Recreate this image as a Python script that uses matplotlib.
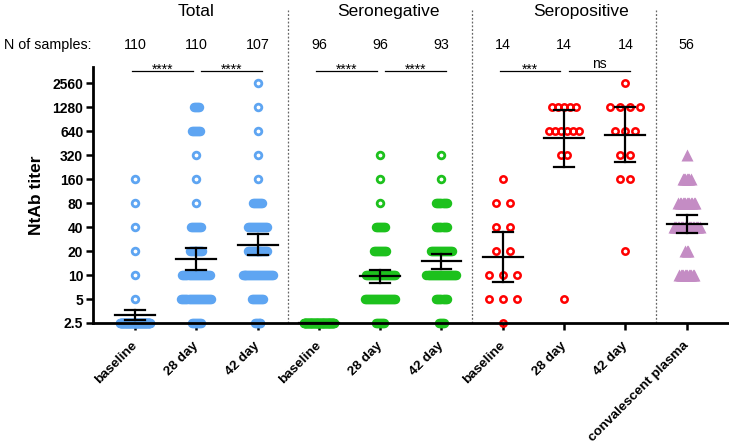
import numpy as np
import matplotlib.pyplot as plt
from matplotlib.transforms import blended_transform_factory

plt.rcParams['font.family'] = ['Liberation Sans', 'DejaVu Sans']

# ---- data -------------------------------------------------------------
categories = ["baseline", "28 day", "42 day",
              "baseline", "28 day", "42 day",
              "baseline", "28 day", "42 day",
              "convalescent plasma"]
group_titles = ["Total", "Seronegative", "Seropositive"]
n_samples = [110, 110, 107, 96, 96, 93, 14, 14, 14, 56]
titer_levels = [2.5, 5, 10, 20, 40, 80, 160, 320, 640, 1280, 2560]
titer_labels = ["2.5", "5", "10", "20", "40", "80", "160", "320", "640", "1280", "2560"]

# number of samples at each titer level (2.5 ... 2560), one list per column
total_base = [104, 1, 1, 1, 1, 1, 1, 0, 0, 0, 0]
total_d28 = [10, 30, 28, 13, 11, 1, 1, 1, 9, 6, 0]
total_d42 = [7, 12, 32, 21, 20, 10, 1, 1, 1, 1, 1]
neg_base = [96, 0, 0, 0, 0, 0, 0, 0, 0, 0, 0]
neg_d28 = [9, 31, 30, 13, 10, 1, 1, 1, 0, 0, 0]
neg_d42 = [6, 11, 30, 22, 11, 11, 1, 1, 0, 0, 0]
pos_base = [1, 3, 3, 2, 2, 2, 1, 0, 0, 0, 0]
pos_d28 = [0, 1, 0, 0, 0, 0, 0, 2, 6, 5, 0]
pos_d42 = [0, 0, 0, 1, 0, 0, 2, 2, 3, 4, 1]
plasma = [0, 0, 12, 3, 20, 13, 7, 1, 0, 0, 0]
column_counts = [total_base, total_d28, total_d42, neg_base, neg_d28, neg_d42,
                 pos_base, pos_d28, pos_d42, plasma]

# geometric mean titer with 95% CI
gmt = [3.15, 16.0, 24.0, 2.5, 9.7, 15.0, 17.0, 518, 576, 43.6]
ci_low = [2.73, 11.6, 17.7, 2.5, 8.0, 12.0, 8.2, 226, 259, 33.3]
ci_high = [3.64, 22.0, 32.7, 2.5, 11.6, 18.3, 34.6, 1174, 1290, 56.6]

# significance brackets: (left col, right col, label)
comparisons = [(0, 1, "****"), (1, 2, "****"), (3, 4, "****"), (4, 5, "****"),
               (6, 7, "***"), (7, 8, "ns")]

blue, green, red, purple = "#5EA5F2", "#1DC11D", "#FF0000", "#C48CC4"
col_colors = [blue] * 3 + [green] * 3 + [red] * 3 + [purple]

# ---- figure -------------------------------------------------------------
fig = plt.figure(figsize=(7.29, 4.46), dpi=100)
ax = fig.add_axes([93 / 729, 1 - 323 / 446, 1 - 93 / 729, 256 / 446])

PX = 1 / 61.3  # one pixel in x data units
x_pos = np.arange(len(categories))

for i, counts in enumerate(column_counts):
    is_tri = i == 9
    width = (26 if is_tri else 30) * PX
    s = min(14 * PX, width / max(max(counts) - 1, 1))
    xs, ys = [], []
    for lvl, n in zip(titer_levels, counts):
        if n == 0:
            continue
        off = (np.arange(n) - (n - 1) / 2) * s
        xs.extend(x_pos[i] + off)
        ys.extend([lvl] * n)
    if is_tri:
        ax.plot(xs, ys, "^", ms=8.5, mfc=col_colors[i], mec="none",
                ls="none", clip_on=False, zorder=2)
    elif i >= 6:
        ax.plot(xs, ys, "o", ms=4.6, mfc="none", mec=col_colors[i], mew=1.8,
                ls="none", clip_on=False, zorder=2)
    else:
        ax.plot(xs, ys, "o", ms=4.8, mfc="none", mec=col_colors[i], mew=2.0,
                ls="none", clip_on=False, zorder=2)

# mean and CI
for i in range(len(categories)):
    x = x_pos[i]
    ax.plot([x - 0.326, x + 0.326], [gmt[i]] * 2, color="black", lw=1.6, zorder=5, clip_on=False)
    if ci_high[i] > ci_low[i]:
        ax.plot([x, x], [ci_low[i], ci_high[i]], color="black", lw=1.6, zorder=5)
        for v in (ci_low[i], ci_high[i]):
            ax.plot([x - 0.163, x + 0.163], [v, v], color="black", lw=1.6, zorder=5)

ax.set_yscale("log", base=2)
ax.set_ylim(2.5, 4064)
ax.set_xlim(-0.685, 9.69)
ax.set_yticks(titer_levels)
ax.set_yticklabels(titer_labels, fontweight="bold", fontsize=10)
ax.yaxis.set_minor_locator(plt.NullLocator())
ax.set_xticks(x_pos)
ax.set_xticklabels(categories, rotation=45, ha="right", va="center",
                   rotation_mode="anchor", fontweight="bold", fontsize=9.7)
ax.set_ylabel("NtAb titer", fontweight="bold", fontsize=12.5, labelpad=6)

for side in ("top", "right"):
    ax.spines[side].set_visible(False)
for side in ("left", "bottom"):
    ax.spines[side].set_linewidth(2)
ax.tick_params(axis="both", length=5, width=1.8, color="black")
ax.tick_params(axis="x", pad=10)
ax.tick_params(axis="y", pad=2)

# group separators, titles, N row, brackets
tr = blended_transform_factory(ax.transData, ax.transAxes)
for xd in (2.5, 5.5, 8.5):
    ax.plot([xd, xd], [0, 1.223], transform=tr, color="#666666", lw=0.9,
            ls=(0, (1.5, 1.5)), clip_on=False)

for title, xt in zip(group_titles, [1.0, 4.13, 7.27]):
    ax.text(xt, 1.215, title, transform=tr, ha="center", va="center", fontsize=12.5)

ax.text(-0.003, 1.086, "N of samples:", transform=ax.transAxes,
        ha="right", va="center", fontsize=10.3)
for x, n in zip(x_pos, n_samples):
    ax.text(x, 1.086, str(n), transform=tr, ha="center", va="center", fontsize=10.3)

for a, b, lab in comparisons:
    if a in (0, 3, 6):
        x0, x1 = x_pos[a] - 0.05, x_pos[b] - 0.06
    else:
        x0, x1 = x_pos[a] + 0.08, x_pos[b] + 0.07
    ax.plot([x0, x1], [0.9855, 0.9855], transform=tr, color="black", lw=0.9, clip_on=False)
    yb = 0.996 if lab == "ns" else 0.975
    ax.text((x0 + x1) / 2, yb, lab, transform=tr, ha="center", va="baseline", fontsize=10)

fig.savefig("out.png", dpi=100)
